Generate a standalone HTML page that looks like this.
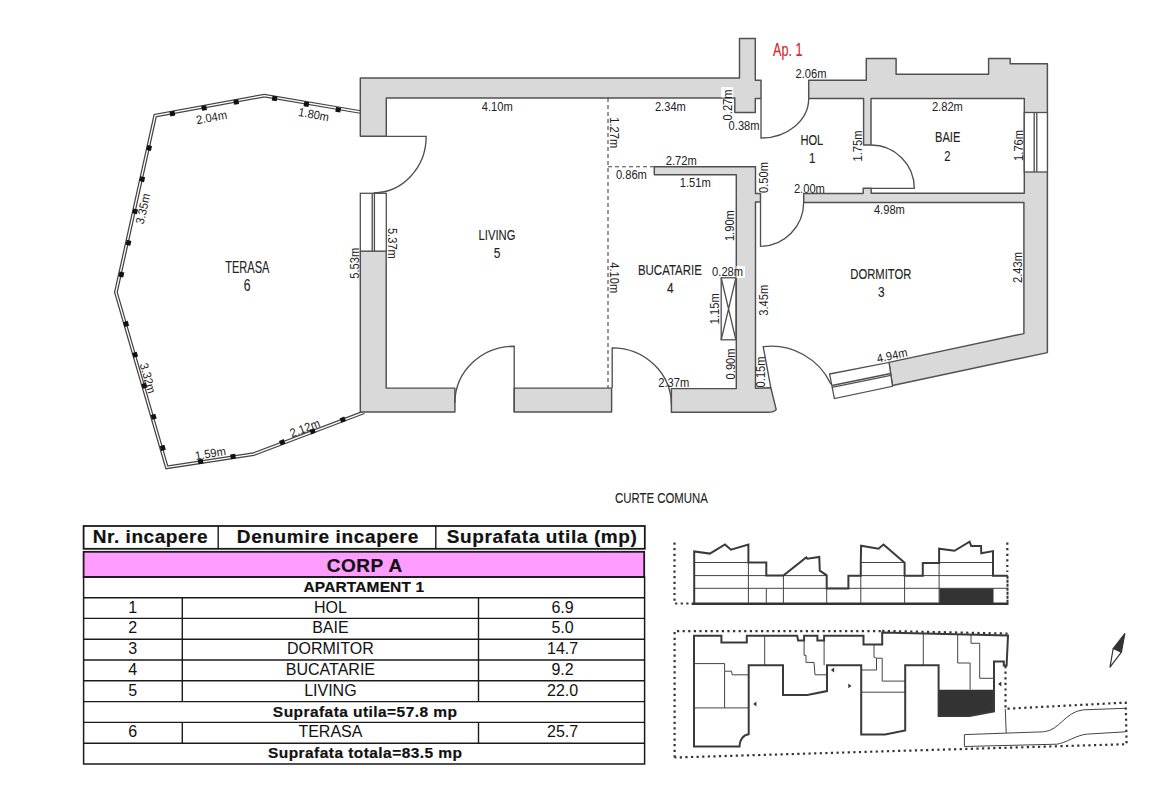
<!DOCTYPE html>
<html><head><meta charset="utf-8">
<style>
html,body{margin:0;padding:0;background:#fff;width:1170px;height:785px;overflow:hidden;}
svg{display:block;font-family:"Liberation Sans", sans-serif;}
.w{fill:#d9d9d9;stroke:#505050;stroke-width:1.45;stroke-linejoin:round;}
.l{fill:none;stroke:#505050;stroke-width:1.35;}
.win{fill:#fff;stroke:#505050;stroke-width:1.3;}
.d{font-size:12px;fill:#222;text-anchor:middle;}
.rm{font-size:15.5px;fill:#222;text-anchor:middle;stroke:#222;stroke-width:0.12;}
.tb{stroke:#222;fill:none;}
.tt{fill:#111;text-anchor:middle;}
.tbh{font-weight:bold;fill:#111;text-anchor:middle;stroke:#111;stroke-width:0.2;}
.sp{fill:none;stroke:#3a3a3a;stroke-width:2;stroke-linejoin:miter;}
.st{fill:none;stroke:#444;stroke-width:1;}
.dot{fill:none;stroke:#333;stroke-width:2.2;stroke-dasharray:2.2 3.4;}
</style></head>
<body>
<svg width="1170" height="785" viewBox="0 0 1170 785">
<!-- ============ FLOOR PLAN ============ -->
<g id="plan">
<!-- railing -->
<polyline points="360.3,112 264.4,95.6 155.2,115.6 115.9,292.3 166.8,467.3 253.5,454.2 364,412.3" fill="none" stroke="#444" stroke-width="3.8" stroke-linejoin="miter"/>
<polyline points="360.3,112 264.4,95.6 155.2,115.6 115.9,292.3 166.8,467.3 253.5,454.2 364,412.3" fill="none" stroke="#fff" stroke-width="1.3" stroke-linejoin="miter"/>
<g fill="#111" id="posts">
<rect x="-2.5" y="-2.4" width="5" height="4.8" transform="translate(172.4,113.6) rotate(-10.4)"/>
<rect x="-2.5" y="-2.4" width="5" height="4.8" transform="translate(204.1,108) rotate(-10.4)"/>
<rect x="-2.5" y="-2.4" width="5" height="4.8" transform="translate(236.2,102) rotate(-10.4)"/>
<rect x="-2.5" y="-2.4" width="5" height="4.8" transform="translate(274.6,98.5) rotate(9.7)"/>
<rect x="-2.5" y="-2.4" width="5" height="4.8" transform="translate(306.4,104.3) rotate(9.7)"/>
<rect x="-2.5" y="-2.4" width="5" height="4.8" transform="translate(338.2,109.7) rotate(9.7)"/>
<rect x="-2.5" y="-2.4" width="5" height="4.8" transform="translate(149.1,148) rotate(102.5)"/>
<rect x="-2.5" y="-2.4" width="5" height="4.8" transform="translate(142.2,179.2) rotate(102.5)"/>
<rect x="-2.5" y="-2.4" width="5" height="4.8" transform="translate(135.1,211.4) rotate(102.5)"/>
<rect x="-2.5" y="-2.4" width="5" height="4.8" transform="translate(128.5,242.8) rotate(102.5)"/>
<rect x="-2.5" y="-2.4" width="5" height="4.8" transform="translate(121.4,274.5) rotate(102.5)"/>
<rect x="-2.5" y="-2.4" width="5" height="4.8" transform="translate(126.1,323.9) rotate(73.8)"/>
<rect x="-2.5" y="-2.4" width="5" height="4.8" transform="translate(135.1,354.8) rotate(73.8)"/>
<rect x="-2.5" y="-2.4" width="5" height="4.8" transform="translate(144.4,385.8) rotate(73.8)"/>
<rect x="-2.5" y="-2.4" width="5" height="4.8" transform="translate(153.7,416.7) rotate(73.8)"/>
<rect x="-2.5" y="-2.4" width="5" height="4.8" transform="translate(162.8,447.9) rotate(73.8)"/>
<rect x="-2.5" y="-2.4" width="5" height="4.8" transform="translate(200.6,461.5) rotate(-8.1)"/>
<rect x="-2.5" y="-2.4" width="5" height="4.8" transform="translate(233,456.6) rotate(-8.1)"/>
<rect x="-2.5" y="-2.4" width="5" height="4.8" transform="translate(282.2,442.2) rotate(-21.5)"/>
<rect x="-2.5" y="-2.4" width="5" height="4.8" transform="translate(312.7,431.3) rotate(-21.5)"/>
<rect x="-2.5" y="-2.4" width="5" height="4.8" transform="translate(342.8,419.7) rotate(-21.5)"/>
</g>

<!-- walls -->
<path class="w" d="M360.3,78 H739.5 V38.5 H755.3 V80.3 H761 V98.5 H755.3 V112.4 H734.8 V98 H386.3 V136.3 H360.3 Z"/>
<path class="w" d="M360.3,251.1 H386.2 V388.1 H454.9 V412 H360.3 Z"/>
<rect class="w" x="514.2" y="388.1" width="97.4" height="23.9"/>
<path class="w" d="M654.3,166.8 H755.5 V193.5 H760.5 V202 H755.5 V388.2 L770.8,387.7 L776.2,409.6 Q774,412.3 768,412.3 H671.4 V388.6 H736.3 V174.7 H654.3 Z"/>
<path class="w" d="M808.7,80.3 H866.3 V58.4 H896.1 V74.2 H988.6 V58.4 H1010.2 V63.8 H1047.4 V352.6 L892.5,385.5 L889,362.4 L1023.9,333.6 V202.5 H803.7 V193.5 H863.2 V188.2 H871.2 V193.3 H1024.3 V98.5 H871 V145 H863.6 V98.5 H808.7 Z"/>

<!-- windows -->
<rect class="win" x="360.3" y="193.3" width="26" height="57.8"/>
<line class="l" x1="372.2" y1="193.3" x2="372.2" y2="251.1"/>
<line class="l" x1="374.4" y1="193.3" x2="374.4" y2="251.1"/>
<rect class="win" x="1024.3" y="112.5" width="23.1" height="59.5"/>
<line class="l" x1="1034.2" y1="112.5" x2="1034.2" y2="172"/>
<line class="l" x1="1036.8" y1="112.5" x2="1036.8" y2="172"/>
<path class="win" d="M829.6,374 L889,362.4 L892.5,386.3 L834.4,398.6 Z"/>
<line class="l" x1="832" y1="385.5" x2="890.7" y2="373.5" stroke-width="1"/>
<line class="l" x1="832" y1="387.3" x2="890.7" y2="375.3" stroke-width="1"/>

<!-- doors -->
<path class="l" d="M386.3,136.3 H426.2 A52.6,56.5 0 0 1 373.6,192.8"/>
<path class="l" d="M761,98.5 V138 A47.7,39.5 0 0 0 808.7,98.5"/>
<path class="l" d="M871.2,188.3 H914.3 A43.3,43.3 0 0 0 871,145"/>
<path class="l" d="M760.5,202 V246.3 A43.2,44.3 0 0 0 803.7,202"/>
<path class="l" d="M514.2,412 V346.2 A59.3,56.8 0 0 0 454.9,403"/>
<path class="l" d="M612.2,388.1 V347.8 A59.2,57.2 0 0 1 671.4,405"/>
<path class="l" d="M770.8,387.7 L763.2,346.7 A66,66 0 0 1 831,384.3"/>

<!-- dashed -->
<path d="M608,98 V388" fill="none" stroke="#444" stroke-width="1.1" stroke-dasharray="4 3"/>
<path d="M608,166.8 H654" fill="none" stroke="#444" stroke-width="1.1" stroke-dasharray="4 3"/>

<!-- radiator -->
<rect class="win" x="721.2" y="277.8" width="14.7" height="62"/>
<path class="l" d="M721.2,277.8 L735.9,339.8 M735.9,277.8 L721.2,339.8" stroke-width="0.8"/>

<!-- labels -->
<g class="d">
<text transform="translate(211.5,117.2) rotate(-10.4) scale(0.93,1)" dy="4.3">2.04m</text>
<text transform="translate(313.8,114.3) rotate(10.4) scale(0.93,1)" dy="4.3">1.80m</text>
<text transform="translate(142.8,208.7) rotate(-77.4) scale(0.93,1)" dy="4.3">3.35m</text>
<text transform="translate(148,378.2) rotate(73.8) scale(0.93,1)" dy="4.3">3.32m</text>
<text transform="translate(210.4,453.3) rotate(-9.5) scale(0.93,1)" dy="4.3">1.59m</text>
<text transform="translate(304.8,427.9) rotate(-21) scale(0.93,1)" dy="4.3">2.12m</text>
<text transform="translate(354.5,263.3) rotate(-90) scale(0.93,1)" dy="4.3">5.53m</text>
<text transform="translate(392.7,243.4) rotate(90) scale(0.93,1)" dy="4.3">5.37m</text>
<text transform="translate(497.2,106.5) scale(0.93,1)" dy="4.3">4.10m</text>
<text transform="translate(670.4,106.2) scale(0.93,1)" dy="4.3">2.34m</text>
<text transform="translate(614.1,132.8) rotate(90) scale(0.93,1)" dy="4.3">1.27m</text>
<rect x="721.2" y="87.2" width="12" height="10.2" fill="#fff"/>
<text transform="translate(727.3,104.9) rotate(-90) scale(0.93,1)" dy="4.3">0.27m</text>
<text transform="translate(744.1,125.5) scale(0.93,1)" dy="4.3">0.38m</text>
<text transform="translate(811,73.7) scale(0.93,1)" dy="4.3">2.06m</text>
<text transform="translate(857.8,146) rotate(-90) scale(0.93,1)" dy="4.3">1.75m</text>
<text transform="translate(947.4,106.7) scale(0.93,1)" dy="4.3">2.82m</text>
<text transform="translate(1018.4,145.4) rotate(-90) scale(0.93,1)" dy="4.3">1.76m</text>
<text transform="translate(681.2,160.5) scale(0.93,1)" dy="4.3">2.72m</text>
<text transform="translate(631.4,174.6) scale(0.93,1)" dy="4.3">0.86m</text>
<text transform="translate(695.3,183) scale(0.93,1)" dy="4.3">1.51m</text>
<text transform="translate(763.2,177.5) rotate(-90) scale(0.93,1)" dy="4.3">0.50m</text>
<text transform="translate(809.4,188.2) scale(0.93,1)" dy="4.3">2.00m</text>
<text transform="translate(729.9,225.6) rotate(-90) scale(0.93,1)" dy="4.3">1.90m</text>
<text transform="translate(889.4,209.5) scale(0.93,1)" dy="4.3">4.98m</text>
<text transform="translate(1017.8,267.5) rotate(-90) scale(0.93,1)" dy="4.3">2.43m</text>
<text transform="translate(614.1,277.8) rotate(90) scale(0.93,1)" dy="4.3">4.10m</text>
<rect x="736.4" y="266" width="8.6" height="12" fill="#fff"/>
<text transform="translate(727.6,272.1) scale(0.93,1)" dy="4.3">0.28m</text>
<text transform="translate(715,308.8) rotate(-90) scale(0.93,1)" dy="4.3">1.15m</text>
<text transform="translate(763.2,300.3) rotate(-90) scale(0.93,1)" dy="4.3">3.45m</text>
<text transform="translate(730.4,363.9) rotate(-90) scale(0.93,1)" dy="4.3">0.90m</text>
<text transform="translate(673.7,382.7) scale(0.93,1)" dy="4.3">2.37m</text>
<text transform="translate(760.9,371.9) rotate(-90) scale(0.93,1)" dy="4.3">0.15m</text>
<text transform="translate(892,355.2) rotate(-12) scale(0.93,1)" dy="4.3">4.94m</text>
</g>
<g class="rm">
<text transform="translate(247.3,272.6) scale(0.71,1)" font-size="15.6">TERASA</text>
<text transform="translate(247.2,290.8) scale(0.78,1)" font-size="15.6">6</text>
<text transform="translate(497,239.9) scale(0.73,1)" font-size="15.4">LIVING</text>
<text transform="translate(497.2,257.9) scale(0.78,1)" font-size="15.4">5</text>
<text transform="translate(669.9,274.7) scale(0.755,1)" font-size="15.2">BUCATARIE</text>
<text transform="translate(670.2,292.6) scale(0.78,1)" font-size="15.2">4</text>
<text transform="translate(811.8,145) scale(0.75,1)" font-size="14.8">HOL</text>
<text transform="translate(812.3,162.7) scale(0.78,1)" font-size="14.8">1</text>
<text transform="translate(947.7,141.9) scale(0.77,1)" font-size="14.4">BAIE</text>
<text transform="translate(947.3,160.7) scale(0.78,1)" font-size="14.4">2</text>
<text transform="translate(880.8,278.5) scale(0.74,1)" font-size="15.2">DORMITOR</text>
<text transform="translate(881.3,296.7) scale(0.78,1)" font-size="15.2">3</text>
<text transform="translate(661.4,503.1) scale(0.75,1)" font-size="15.2">CURTE COMUNA</text>
<text transform="translate(787.7,55.9) scale(0.72,1)" font-size="17.5" style="fill:#e8202a">Ap. 1</text>
</g>
</g>

<!-- ============ TABLE ============ -->
<g id="table">
<rect x="83.6" y="526" width="561.2" height="22.8" fill="#fff" stroke="#1a1a1a" stroke-width="1.8"/>
<line x1="218.2" y1="526" x2="218.2" y2="548.8" stroke="#1a1a1a" stroke-width="1.4"/>
<line x1="435.8" y1="526" x2="435.8" y2="548.8" stroke="#1a1a1a" stroke-width="1.4"/>
<rect x="83.6" y="551.8" width="560.6" height="25.2" fill="#ff9cff" stroke="#1a1a1a" stroke-width="1.8"/>
<rect x="83.6" y="577" width="561" height="187" fill="none" stroke="#1a1a1a" stroke-width="1.5"/>
<line x1="83.6" y1="597.8" x2="644.6" y2="597.8" stroke="#1a1a1a" stroke-width="1.4"/>
<line x1="83.6" y1="618.4" x2="644.6" y2="618.4" stroke="#1a1a1a" stroke-width="1.4"/>
<line x1="83.6" y1="639.2" x2="644.6" y2="639.2" stroke="#1a1a1a" stroke-width="1.4"/>
<line x1="83.6" y1="660.0" x2="644.6" y2="660.0" stroke="#1a1a1a" stroke-width="1.4"/>
<line x1="83.6" y1="680.8" x2="644.6" y2="680.8" stroke="#1a1a1a" stroke-width="1.4"/>
<line x1="83.6" y1="701.6" x2="644.6" y2="701.6" stroke="#1a1a1a" stroke-width="1.4"/>
<line x1="83.6" y1="722.4" x2="644.6" y2="722.4" stroke="#1a1a1a" stroke-width="1.4"/>
<line x1="83.6" y1="743.2" x2="644.6" y2="743.2" stroke="#1a1a1a" stroke-width="1.4"/>
<line x1="182.3" y1="597.8" x2="182.3" y2="701.6" stroke="#1a1a1a" stroke-width="1.4"/>
<line x1="478.5" y1="597.8" x2="478.5" y2="701.6" stroke="#1a1a1a" stroke-width="1.4"/>
<line x1="182.3" y1="722.4" x2="182.3" y2="743.2" stroke="#1a1a1a" stroke-width="1.4"/>
<line x1="478.5" y1="722.4" x2="478.5" y2="743.2" stroke="#1a1a1a" stroke-width="1.4"/>
<text class="tbh" x="150.2" y="543.1" font-size="19.0" textLength="114.8" lengthAdjust="spacing">Nr. incapere</text>
<text class="tbh" x="327.5" y="543.1" font-size="19.0" textLength="181.5" lengthAdjust="spacing">Denumire incapere</text>
<text class="tbh" x="541.8" y="543.1" font-size="19.0" textLength="190.2" lengthAdjust="spacing">Suprafata utila (mp)</text>
<text class="tbh" x="364.5" y="571.5" font-size="19.0" textLength="75.6" lengthAdjust="spacing">CORP A</text>
<text class="tbh" x="363.8" y="592.2" font-size="15.5" textLength="120.5" lengthAdjust="spacing">APARTAMENT 1</text>
<text class="tt" x="132.8" y="612.7" font-size="16.0">1</text>
<text class="tt" x="330.4" y="612.7" font-size="16.0">HOL</text>
<text class="tt" x="562.6" y="612.7" font-size="16.0">6.9</text>
<text class="tt" x="132.8" y="633.4" font-size="16.0">2</text>
<text class="tt" x="330.4" y="633.4" font-size="16.0">BAIE</text>
<text class="tt" x="562.6" y="633.4" font-size="16.0">5.0</text>
<text class="tt" x="132.8" y="654.2" font-size="16.0">3</text>
<text class="tt" x="330.4" y="654.2" font-size="16.0">DORMITOR</text>
<text class="tt" x="562.6" y="654.2" font-size="16.0">14.7</text>
<text class="tt" x="132.8" y="675.0" font-size="16.0">4</text>
<text class="tt" x="330.4" y="675.0" font-size="16.0">BUCATARIE</text>
<text class="tt" x="562.6" y="675.0" font-size="16.0">9.2</text>
<text class="tt" x="132.8" y="695.8" font-size="16.0">5</text>
<text class="tt" x="330.4" y="695.8" font-size="16.0">LIVING</text>
<text class="tt" x="562.6" y="695.8" font-size="16.0">22.0</text>
<text class="tbh" x="364.9" y="716.6" font-size="15.5" textLength="184.1" lengthAdjust="spacing">Suprafata utila=57.8 mp</text>
<text class="tt" x="132.8" y="737.4" font-size="16.0">6</text>
<text class="tt" x="330.4" y="737.4" font-size="16.0">TERASA</text>
<text class="tt" x="562.6" y="737.4" font-size="16.0">25.7</text>
<text class="tbh" x="365" y="758.2" font-size="15.5" textLength="194" lengthAdjust="spacing">Suprafata totala=83.5 mp</text>
</g>

<!-- ============ SITE PLAN ============ -->
<g id="site">
<path class="dot" d="M674.5,542.5 V603.5 H689"/>
<path class="dot" d="M1007.3,542.5 V572"/>
<path d="M1007.5,575.8 V603.7" fill="none" stroke="#333" stroke-width="2" stroke-dasharray="3 1"/>
<path d="M691.6,603.7 H1008.5" fill="none" stroke="#333" stroke-width="2.4"/>
<path class="st" d="M694.2,562.5 H748.4 M860.8,562.5 H904.6 M939.1,562.5 H993 M694.2,575.6 H826.7 M848.4,575.6 H1007.7 M694.2,588.3 H1007.7 M748.4,562.5 V603.5 M766.3,588.5 V603.5 M783.4,575.6 V603.5 M826.7,588.5 V603.5 M860.8,575.8 V603.5 M904.6,575.8 V603.5 M939.1,562.5 V603.5"/>
<rect x="939.4" y="588.5" width="54.1" height="15.4" fill="#333"/>
<path class="sp" d="M694.2,603.5 V551.4 L709.9,553.6 L725,544.5 L730.9,549.7 L748.4,544.5 V562.5 H766.3 V575.6 H783.4 L806.2,557.4 L807.4,558.7 L819.3,557 L819.8,570.7 L826.7,575.3 V588.5 H848.4 V575.8 H860.8 V562.5 L861.1,545.8 L878.5,548.7 L883.5,544.6 L904.6,562.8 V575.8 H922.8 V563 H939.1 V548.7 L954.5,550.8 L969.6,541.7 L971.2,545.9 L981,545.9 L981.3,553.2 L993,551.1 V575.8 H1007.7"/>

<path class="dot" d="M674.6,757.5 V631.1 H882.2"/>
<path class="dot" d="M882.2,630.9 L1008,633.6"/>
<path class="dot" d="M1005.5,666 V708.8 L1125.7,702.6 L1126.6,744.2 L674.6,757.5"/>
<path class="st" d="M694,663.6 H724.6 V671.2 H731.5 L732.2,674.8 H748.7 M724.6,671.2 V707.9 M694,707.9 H748.7 M764.7,635.7 V665.3 M804.1,640.4 V655.3 H806 V662.4 H814 L815,674.8 H827 M824.1,640.4 V665.3 M874,644.5 V657.2 L876.5,658.2 V670 H861.2 M876.5,658.2 H882.2 V681.1 H905.2 M861.2,692.2 H905.2 M923.3,633.8 V665.3 M957.7,634.3 V663 H970.1 V689.7 M971,634.3 V643.3 H979.7 V678.3 H994"/>
<path d="M938.6,689.7 H994 V711.3 L969.5,715.9 H938.6 Z" fill="#333"/>
<path class="sp" d="M694,635.7 H721.4 V642.5 H746.8 V635.7 H797.2 L798.1,640.4 H804.1 V635.7 H817.4 V640.4 H824.1 V635.7 H863.5 V644.5 H882.2 V632.6 L1008,635.5 L1006.6,665.6 H1003.8 V661.4 H994 V711.3 L969.5,715.9 H938.6 V665.3 H905.2 V730.4 L885.1,734.6 H861.2 V665.3 H827 V691.1 L807.3,695.1 H783 V665.3 H748.7 V734.2 A10,12 0 0 0 739.5,746.5 H694 Z"/>
<g fill="#333">
<path d="M753.2,704 L756.4,701.6 V706.4 Z"/>
<path d="M830.9,670 L834.1,667.6 V672.4 Z"/>
<path d="M851.5,685.9 L848.3,683.5 V688.3 Z"/>
<path d="M998.1,684 L1001.3,681.6 V686.4 Z"/>
</g>
<path class="st" d="M1005.3,708.9 L1006.2,733.1 M964.4,734.6 L1043.5,731.8 C1060,730.5 1065,711.5 1083.6,709.8 L1125.7,708.3 M964.4,746.5 L1056.9,744.2 C1066,743 1076,735 1087.5,734.1 L1125.7,731.8 M964.4,734.6 V746.5"/>
<path d="M1124.8,633.6 L1113.2,648.5 L1121.4,652.2 Z" fill="#333" stroke="#333" stroke-width="1.2" stroke-linejoin="round"/>
<path d="M1113.2,648.5 L1121.4,652.2 L1110,667.1 Z" fill="#fff" stroke="#333" stroke-width="1.2" stroke-linejoin="round"/>
</g>
</svg>
</body></html>
